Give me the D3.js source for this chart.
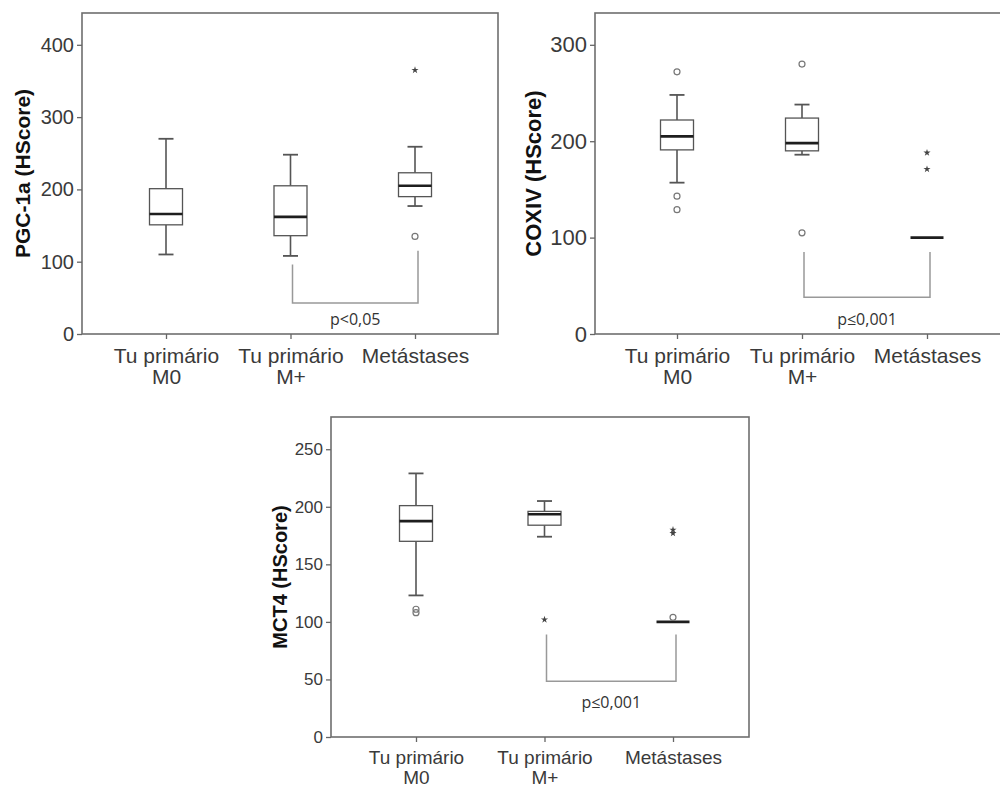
<!DOCTYPE html>
<html lang="pt">
<head>
<meta charset="UTF-8">
<script src="https://cdn.jsdelivr.net/npm/d3@7"></script>
<title>HScore boxplots</title>
<style>
    body { margin: 0; background: #fff; }
    svg { display: block; font-family: Arial, "Liberation Sans", sans-serif; }
    .tick text { fill: #3a3a3a; }
    .tick line { stroke: #666; stroke-width: 1.3px; }
</style>
</head>
<body>
<svg id="chart" width="1000" height="789"></svg>
<script>
// categories shared by the three panels
const categories = [["Tu primário", "M0"], ["Tu primário", "M+"], ["Metástases"]];

// PGC-1a
const pgcBoxes = [
    { lo: 110, q1: 151, med: 166, q3: 201, hi: 270 },
    { lo: 108, q1: 136, med: 162, q3: 205, hi: 248 },
    { lo: 177, q1: 190, med: 205, q3: 223, hi: 259 }
];
const pgcOutliers = [
    { cat: 2, v: 135, kind: "o" },
    { cat: 2, v: 365, kind: "*" }
];
const pgcTicks = [0, 100, 200, 300, 400];
const pgcBracket = { from: 1, to: 2, left: 96, right: 115, bottom: 43, labelY: 21, label: "p<0,05" };

// COXIV
const coxBoxes = [
    { lo: 157, q1: 191, med: 205, q3: 222, hi: 248 },
    { lo: 186, q1: 190, med: 198, q3: 224, hi: 238 },
    { lo: 100, q1: 100, med: 100, q3: 100, hi: 100 }
];
const coxOutliers = [
    { cat: 0, v: 272, kind: "o" }, { cat: 0, v: 143, kind: "o" }, { cat: 0, v: 129, kind: "o" },
    { cat: 1, v: 280, kind: "o" }, { cat: 1, v: 105, kind: "o" },
    { cat: 2, v: 188, kind: "*" }, { cat: 2, v: 171, kind: "*" }
];
const coxTicks = [0, 100, 200, 300];
const coxBracket = { from: 1, to: 2, left: 85, right: 85, bottom: 38, labelY: 15.5, label: "p≤0,001" };

// MCT4
const mctBoxes = [
    { lo: 123, q1: 170, med: 187.5, q3: 201, hi: 229 },
    { lo: 174, q1: 184, med: 193.5, q3: 196, hi: 205 },
    { lo: 100, q1: 100, med: 100, q3: 100, hi: 100 }
];
const mctOutliers = [
    { cat: 0, v: 111, kind: "o" }, { cat: 0, v: 108, kind: "o" },
    { cat: 1, v: 102, kind: "*" },
    { cat: 2, v: 104, kind: "o" }, { cat: 2, v: 180, kind: "*" }, { cat: 2, v: 177, kind: "*" }
];
const mctTicks = [0, 50, 100, 150, 200, 250];
const mctBracket = { from: 1, to: 2, left: 89, right: 89, bottom: 48.5, labelY: 30, label: "p≤0,001" };

const panels = [
    { title: "PGC-1a (HScore)", boxes: pgcBoxes, outliers: pgcOutliers, ticks: pgcTicks, bracket: pgcBracket,
      x0: 82, x1: 498, y0: 13, y1: 334, max: 444, c0: 166, c2: 415, titleX: 22, tickFont: 20, titleFont: 21, catFont: 21, catTop: 29, catGap: 21 },
    { title: "COXIV (HScore)", boxes: coxBoxes, outliers: coxOutliers, ticks: coxTicks, bracket: coxBracket,
      x0: 595, x1: 1003, y0: 13, y1: 334, max: 333, c0: 677, c2: 927, titleX: 533, tickFont: 22, titleFont: 22, catFont: 21, catTop: 29, catGap: 21 },
    { title: "MCT4 (HScore)", boxes: mctBoxes, outliers: mctOutliers, ticks: mctTicks, bracket: mctBracket,
      x0: 331, x1: 749, y0: 417, y1: 737, max: 278, c0: 416, c2: 673, titleX: 280, tickFont: 17, titleFont: 20, catFont: 19, catTop: 27, catGap: 20 }
];

const svg = d3.select("#chart");

panels.forEach(p => {
    const g = svg.append("g");
    const x = d3.scalePoint().domain(d3.range(categories.length)).range([p.c0, p.c2]);
    const y = d3.scaleLinear().domain([0, p.max]).range([p.y1, p.y0]);
    const boxW = 33, capW = 15;

    // frame
    g.append("rect")
        .attr("x", p.x0).attr("y", p.y0)
        .attr("width", p.x1 - p.x0).attr("height", p.y1 - p.y0)
        .attr("fill", "none").attr("stroke", "#6e6e6e").attr("stroke-width", 1.6);

    // y axis
    const yAxis = g.append("g")
        .attr("transform", `translate(${p.x0},0)`)
        .call(d3.axisLeft(y).tickValues(p.ticks).tickSize(5).tickPadding(3))
        .attr("font-family", null).attr("font-size", null);
    yAxis.select(".domain").remove();
    yAxis.selectAll("text").attr("font-size", p.tickFont);

    // x axis
    const xAxis = g.append("g")
        .attr("transform", `translate(0,${p.y1})`)
        .call(d3.axisBottom(x).tickSize(5).tickFormat(""))
        .attr("font-family", null).attr("font-size", null);
    xAxis.select(".domain").remove();
    xAxis.selectAll(".tick").each(function (d) {
        const t = d3.select(this).append("text")
            .attr("text-anchor", "middle")
            .attr("font-size", p.catFont)
            .attr("fill", "#3a3a3a");
        categories[d].forEach((line, i) => {
            t.append("tspan").attr("x", 0).attr("y", p.catTop + i * p.catGap).text(line);
        });
    });

    // y title
    g.append("text")
        .attr("transform", `translate(${p.titleX},${(p.y0 + p.y1) / 2}) rotate(-90)`)
        .attr("text-anchor", "middle")
        .attr("dominant-baseline", "central")
        .attr("font-weight", "bold")
        .attr("font-size", p.titleFont)
        .attr("fill", "#111")
        .text(p.title);

    // boxes
    const box = g.selectAll(".box").data(p.boxes).join("g").attr("class", "box");
    box.append("line")
        .attr("x1", (d, i) => x(i)).attr("x2", (d, i) => x(i))
        .attr("y1", d => y(d.hi)).attr("y2", d => y(d.q3))
        .attr("stroke", "#555").attr("stroke-width", 1.6);
    box.append("line")
        .attr("x1", (d, i) => x(i)).attr("x2", (d, i) => x(i))
        .attr("y1", d => y(d.q1)).attr("y2", d => y(d.lo))
        .attr("stroke", "#555").attr("stroke-width", 1.6);
    box.filter(d => d.hi > d.lo).each(function (d) {
        const sel = d3.select(this);
        const idx = p.boxes.indexOf(d);
        [d.hi, d.lo].forEach(v => {
            sel.append("line")
                .attr("x1", x(idx) - capW / 2).attr("x2", x(idx) + capW / 2)
                .attr("y1", y(v)).attr("y2", y(v))
                .attr("stroke", "#555").attr("stroke-width", 1.8);
        });
        sel.append("rect")
            .attr("x", x(idx) - boxW / 2).attr("y", y(d.q3))
            .attr("width", boxW).attr("height", y(d.q1) - y(d.q3))
            .attr("fill", "#fff").attr("stroke", "#555").attr("stroke-width", 1.3);
    });
    box.append("line")
        .attr("x1", (d, i) => x(i) - boxW / 2).attr("x2", (d, i) => x(i) + boxW / 2)
        .attr("y1", d => y(d.med)).attr("y2", d => y(d.med))
        .attr("stroke", "#1e1e1e").attr("stroke-width", 2.6);

    // outliers
    g.selectAll(".out").data(p.outliers.filter(d => d.kind === "o")).join("circle")
        .attr("cx", d => x(d.cat)).attr("cy", d => y(d.v)).attr("r", 3)
        .attr("fill", "none").attr("stroke", "#777").attr("stroke-width", 1.2);
    g.selectAll(".ext").data(p.outliers.filter(d => d.kind === "*")).join("path")
        .attr("d", d3.symbol(d3.symbolStar, 16))
        .attr("transform", d => `translate(${x(d.cat)},${y(d.v)})`)
        .attr("fill", "#444");

    // significance bracket
    const b = p.bracket;
    const bx0 = x(b.from) + 2, bx1 = x(b.to) + 3;
    g.append("path")
        .attr("d", `M${bx0},${y(b.left)}V${y(b.bottom)}H${bx1}V${y(b.right)}`)
        .attr("fill", "none").attr("stroke", "#999").attr("stroke-width", 1.5);
    g.append("text")
        .attr("x", (bx0 + bx1) / 2).attr("y", y(b.labelY))
        .attr("text-anchor", "middle").attr("dominant-baseline", "central")
        .attr("font-family", "'Open Sans', sans-serif")
        .attr("font-size", 16).attr("fill", "#333")
        .text(b.label);
});
</script>
</body>
</html>
